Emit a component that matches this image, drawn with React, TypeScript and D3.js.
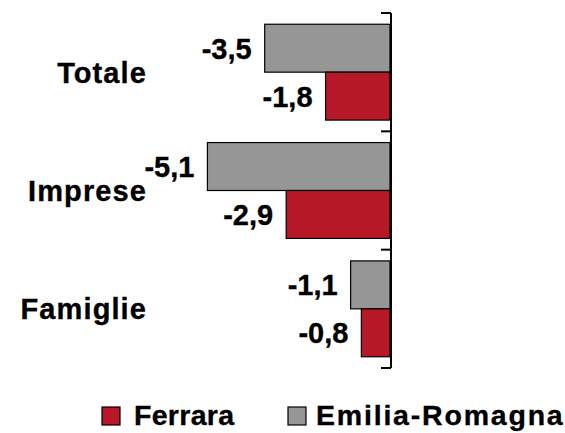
import React from "react";
import * as d3 from "d3";

const categories = ["Totale", "Imprese", "Famiglie"];
const emiliaRomagna = [-3.5, -5.1, -1.1];
const ferrara = [-1.8, -2.9, -0.8];
const seriesNames = ["Emilia-Romagna", "Ferrara"];
const seriesColors = ["#969696", "#B71828"];

const W = 565;
const H = 433;
const FONT = "'Liberation Sans', Arial, sans-serif";

const fmt = (v: number) => v.toFixed(1).replace(".", ",");

export default function App() {
  const x = d3.scaleLinear().domain([-6, 0]).range([175.2, 390]);
  const y0 = d3
    .scaleBand<string>()
    .domain(categories)
    .range([13, 368])
    .paddingInner(0.19)
    .paddingOuter(0.095);
  const y1 = d3
    .scaleBand<string>()
    .domain(seriesNames)
    .range([0, y0.bandwidth()]);

  const seriesValues = [emiliaRomagna, ferrara];
  const step = y0.step();
  const boundaries = [0, 1, 2, 3].map(
    (i) => (y0(categories[0]) as number) - (step - y0.bandwidth()) / 2 + i * step
  );

  const textStroke = { stroke: "#000", strokeWidth: 0.35 };

  return (
    <svg
      width={W}
      height={H}
      style={{ position: "absolute", left: 0, top: 0, background: "#fff" }}
      fontFamily={FONT}
      fontWeight="bold"
    >
      {categories.map((c, ci) => (
        <g key={c}>
          {seriesNames.map((s, si) => {
            const v = seriesValues[si][ci];
            const yy = (y0(c) as number) + (y1(s) as number);
            const xl = x(v);
            return (
              <g key={s}>
                <rect
                  x={xl}
                  y={yy}
                  width={x(0) - xl}
                  height={y1.bandwidth()}
                  fill={seriesColors[si]}
                  stroke="#000"
                  strokeWidth={1.2}
                />
                <text
                  x={xl - 13}
                  y={yy + y1.bandwidth() / 2 + 10.5}
                  textAnchor="end"
                  fontSize={29}
                  fill="#000"
                  {...textStroke}
                >
                  {fmt(v)}
                </text>
              </g>
            );
          })}
          <text
            x={147}
            y={(y0(c) as number) + y0.bandwidth() / 2 + 10.5}
            textAnchor="end"
            fontSize={29}
            fill="#000"
            letterSpacing={1.1}
            {...textStroke}
          >
            {c}
          </text>
        </g>
      ))}
      {/* axis */}
      <line
        x1={x(0) + 1}
        x2={x(0) + 1}
        y1={boundaries[0]}
        y2={boundaries[3]}
        stroke="#000"
        strokeWidth={2}
      />
      {boundaries.map((b, i) => (
        <line
          key={i}
          x1={x(0) - 9}
          x2={x(0) + 1}
          y1={b}
          y2={b}
          stroke="#000"
          strokeWidth={2}
        />
      ))}
      {/* legend */}
      <g>
        <rect x={102} y={407} width={18} height={18} fill={seriesColors[1]} stroke="#000" strokeWidth={1.2} />
        <text x={134} y={425} fontSize={28.5} fill="#000" letterSpacing={0.3} {...textStroke}>
          {seriesNames[1]}
        </text>
        <rect x={288} y={407} width={18} height={18} fill={seriesColors[0]} stroke="#000" strokeWidth={1.2} />
        <text x={316} y={425} fontSize={28.5} fill="#000" letterSpacing={1.8} {...textStroke}>
          {seriesNames[0]}
        </text>
      </g>
    </svg>
  );
}
